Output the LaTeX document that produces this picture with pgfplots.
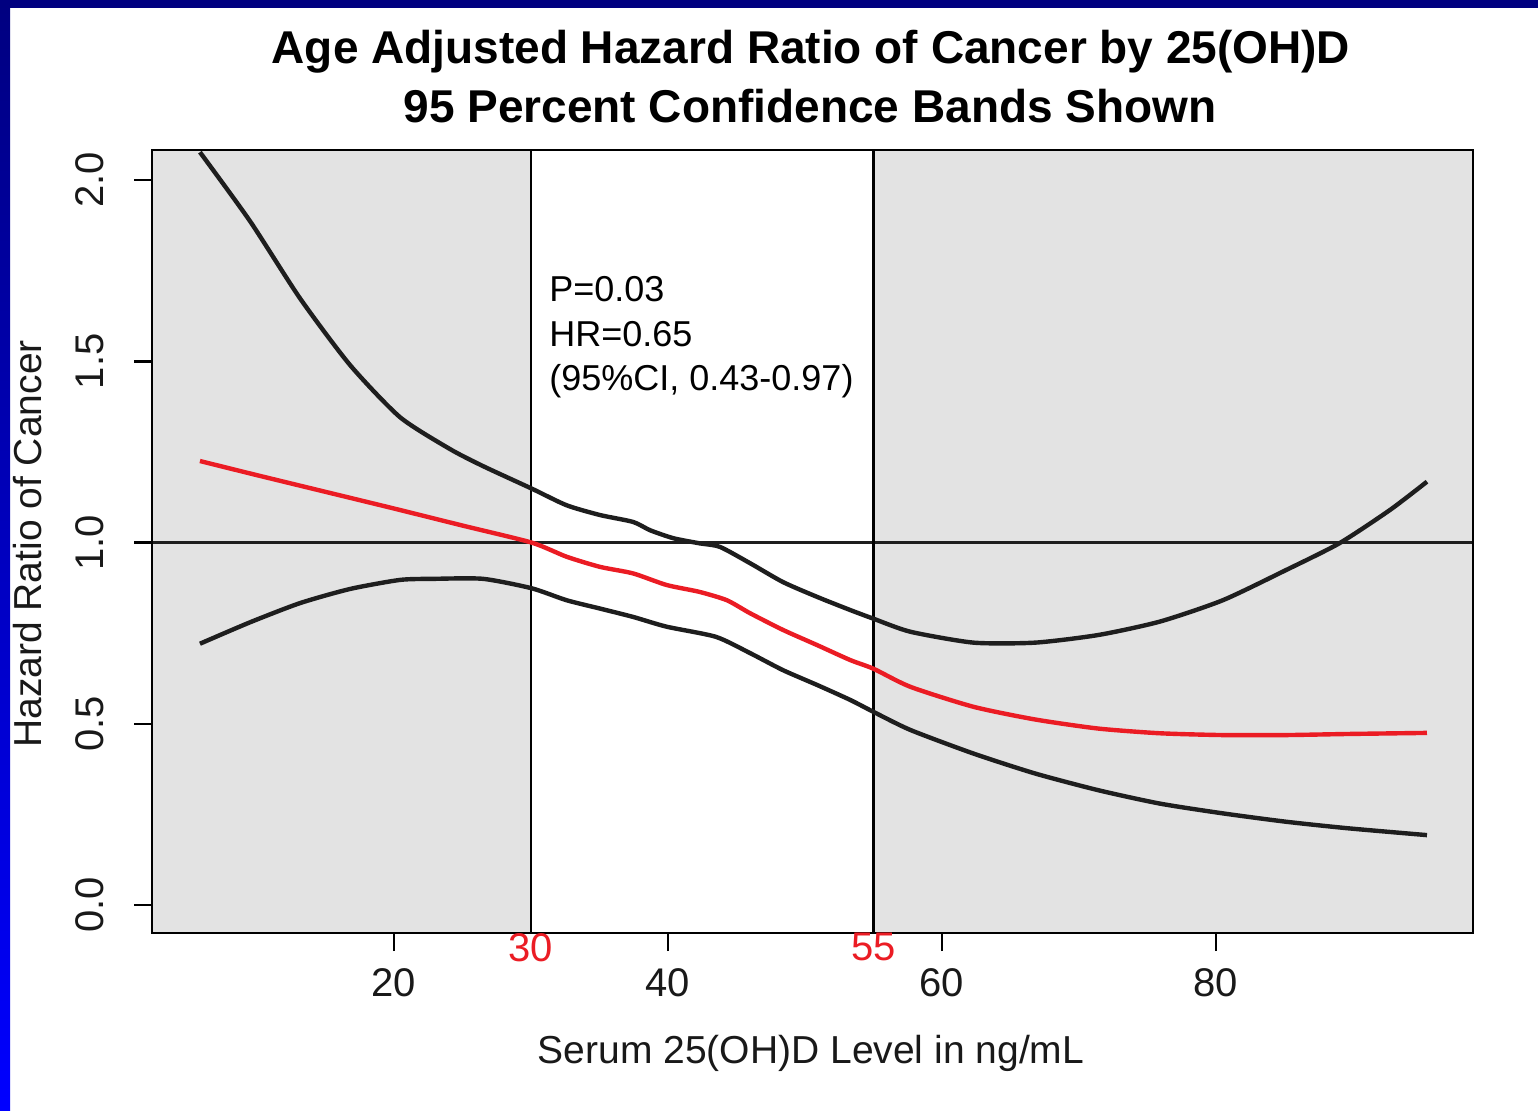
\documentclass[border=0pt]{standalone}
\usepackage{pgfplots}
\pgfplotsset{compat=1.18}
\usepackage{pgfplotstable}
\usepackage{fontspec}
\setmainfont{Liberation Sans}
\definecolor{bgGray}{RGB}{227,227,227}
\definecolor{hrRed}{RGB}{235,28,36}
\definecolor{navyTop}{RGB}{0,0,128}
\definecolor{curveBlack}{RGB}{30,30,30}

\pgfplotstableread{
x y
5.84 1.225
10 1.186
15 1.140
20 1.094
25 1.047
30.05 1.000
32.6 0.961
35.04 0.933
37.45 0.915
39.9 0.883
42.3 0.864
44.3 0.841
46.0 0.805
48.4 0.759
50.9 0.717
53.3 0.676
55.0 0.652
57.7 0.602
62.3 0.547
66.8 0.512
71.4 0.487
75.9 0.474
80.5 0.469
85.1 0.469
89.6 0.472
95.4 0.475
}\hrtable

\pgfplotstableread{
x y
5.84 2.077
9.49 1.887
13.14 1.674
16.79 1.490
20.44 1.346
24.09 1.258
26.5 1.211
30.05 1.149
32.6 1.103
35.04 1.076
37.45 1.057
38.7 1.034
40.4 1.012
42.3 0.998
43.8 0.988
46.0 0.943
48.4 0.891
50.9 0.850
53.3 0.814
55.0 0.790
57.7 0.754
62.3 0.724
66.8 0.724
71.4 0.745
75.9 0.782
80.5 0.841
85.1 0.924
89.0 0.998
92.7 1.090
95.4 1.168
}\uppertable

\pgfplotstableread{
x y
5.84 0.721
9.49 0.780
13.14 0.833
16.79 0.872
20.44 0.897
22.9 0.900
26.5 0.900
30.05 0.874
32.6 0.841
35.04 0.818
37.45 0.795
39.9 0.768
43.5 0.740
46.0 0.695
48.4 0.648
50.9 0.607
53.3 0.566
55.0 0.533
57.7 0.483
62.3 0.418
66.8 0.363
71.4 0.317
75.9 0.280
80.5 0.253
85.1 0.230
89.6 0.212
95.4 0.193
}\lowertable

\begin{document}
\begin{tikzpicture}
\path[use as bounding box] (0pt,0pt) rectangle (769pt,555pt);
\fill[white] (0pt,0pt) rectangle (769pt,555pt);
\shade[top color=navyTop, bottom color=blue] (0pt,0pt) rectangle (5pt,555pt);
\fill[navyTop] (0pt,551pt) rectangle (769pt,555pt);
\begin{axis}[
  at={(76pt,88.5pt)}, anchor=south west,
  scale only axis, width=660.5pt, height=391.5pt,
  xmin=2.34, xmax=98.76, ymin=-0.077, ymax=2.083,
  axis background/.style={fill=bgGray},
  axis on top,
  axis line style={black, line width=1.4pt},
  xtick={20,40,60,80}, ytick={0,0.5,1,1.5,2},
  xtick pos=bottom, ytick pos=left,
  tick align=outside, major tick length=9pt,
  tick style={black, line width=1.3pt},
  /pgf/number format/assume math mode=true,
  ticklabel style={font=\fontsize{20}{24}\selectfont, text=black!90},
  yticklabel style={rotate=90, anchor=south, inner sep=0pt,
    /pgf/number format/.cd, fixed, fixed zerofill, precision=1},
  xticklabel style={anchor=north, inner sep=0pt},
  xticklabel shift=8.5pt, yticklabel shift=15pt,
  extra x ticks={30,55}, extra x tick labels={30,55},
  extra x tick style={major tick length=0pt,
    xticklabel style={text=hrRed, yshift=8.5pt}},
]
\addplot[fill=white, draw=none, forget plot] coordinates {(30,-0.2) (55,-0.2) (55,2.3) (30,2.3)} -- cycle;
\addplot[curveBlack, line width=1.3pt, forget plot] coordinates {(0,1) (100,1)};
\addplot[black, line width=1.4pt, forget plot] coordinates {(30,-0.2) (30,2.3)};
\addplot[black, line width=1.4pt, forget plot] coordinates {(55,-0.2) (55,2.3)};
\addplot[curveBlack, line width=2.2pt, smooth, tension=0.4] table[x=x, y=y] {\uppertable};
\addplot[curveBlack, line width=2.2pt, smooth, tension=0.4] table[x=x, y=y] {\lowertable};
\addplot[hrRed, line width=2.2pt, smooth, tension=0.4] table[x=x, y=y] {\hrtable};
\end{axis}
\node[font=\fontsize{23}{28}\selectfont\bfseries] at (405.5pt,529pt) {Age Adjusted Hazard Ratio of Cancer by 25(OH)D};
\node[font=\fontsize{23}{28}\selectfont\bfseries] at (405pt,502pt) {95 Percent Confidence Bands Shown};
\node[font=\fontsize{19.5}{24}\selectfont, text=black!90] at (405.5pt,28.5pt) {Serum 25(OH)D Level in ng/mL};
\node[font=\fontsize{19.5}{24}\selectfont, text=black!90, rotate=90] at (14pt,283pt) {Hazard Ratio of Cancer};
\node[font=\fontsize{18}{22.25}\selectfont, align=left, anchor=north west, inner sep=0pt] at (274.5pt,417pt) {P=0.03\\HR=0.65\\(95\%CI, 0.43-0.97)};
\end{tikzpicture}
\end{document}
